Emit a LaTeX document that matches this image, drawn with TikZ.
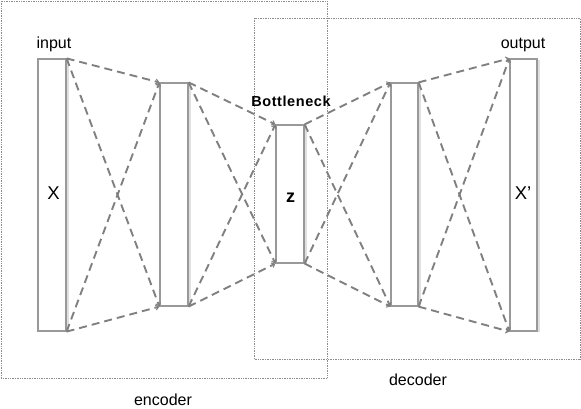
\documentclass[tikz,border=0pt]{standalone}
\usepackage{fontspec}
\setmainfont{Liberation Sans}
\usetikzlibrary{arrows.meta}
\begin{document}
\begin{tikzpicture}[x=1pt,y=-1pt,
  layer/.style={draw=black!40,line width=1.2pt,fill=white},
  shade/.style={fill=black!12},
  conn/.style={draw=black!50,line width=1.9pt,dash pattern=on 8pt off 5pt,-{Straight Barb[length=3pt,width=5pt,line width=1pt]}},
  group/.style={draw=black!45,line width=0.7pt,densely dotted},
  lbl/.style={font=\fontsize{16}{19}\selectfont,inner sep=0pt}]
\useasboundingbox (0,0) rectangle (581,408);
% group boxes
\draw[group] (1,1) rectangle (327,378);
\draw[group] (254,18) rectangle (580,359);
% shadows
\fill[shade] (66,60) rectangle (69,332);
\fill[shade] (188,84) rectangle (191,307);
\fill[shade] (304,126) rectangle (307,264);
\fill[shade] (418,84) rectangle (421,307);
\fill[shade] (537,60) rectangle (540,332);
% layers
\node[layer,minimum width=28pt,minimum height=272pt,inner sep=0pt] (in) at (52,195) {};
\node[layer,minimum width=28pt,minimum height=223pt,inner sep=0pt] (h1) at (174,194.5) {};
\node[layer,minimum width=28pt,minimum height=138pt,inner sep=0pt] (z) at (290,194) {};
\node[layer,minimum width=27pt,minimum height=223pt,inner sep=0pt] (h2) at (404.5,194.5) {};
\node[layer,minimum width=27pt,minimum height=272pt,inner sep=0pt] (out) at (523.5,195) {};
% connectors
\foreach \a/\b in {in/h1,h1/z,z/h2,h2/out}{
  \draw[conn] (\a.north east) -- (\b.north west);
  \draw[conn] (\a.north east) -- (\b.south west);
  \draw[conn] (\a.south east) -- (\b.north west);
  \draw[conn] (\a.south east) -- (\b.south west);
}
% labels
\node[lbl] (tin) at (54,44) {input};
\node[lbl] (tout) at (523,45) {output};
\node[lbl,font=\fontsize{18.5}{22}\selectfont] (tx) at (53.5,193.5) {X};
\node[lbl,font=\fontsize{18}{21}\selectfont\bfseries] (tz) at (290.5,198) {z};
\node[lbl,font=\fontsize{18.5}{22}\selectfont] (txp) at (523,193.5) {X’};
\node[lbl,font=\fontsize{14.5}{17}\selectfont\bfseries\addfontfeature{LetterSpace=4}] (tb) at (291,101) {Bottleneck};
\node[lbl] (tenc) at (163,399.5) {encoder};
\node[lbl] (tdec) at (418,380) {decoder};
\end{tikzpicture}
\end{document}
